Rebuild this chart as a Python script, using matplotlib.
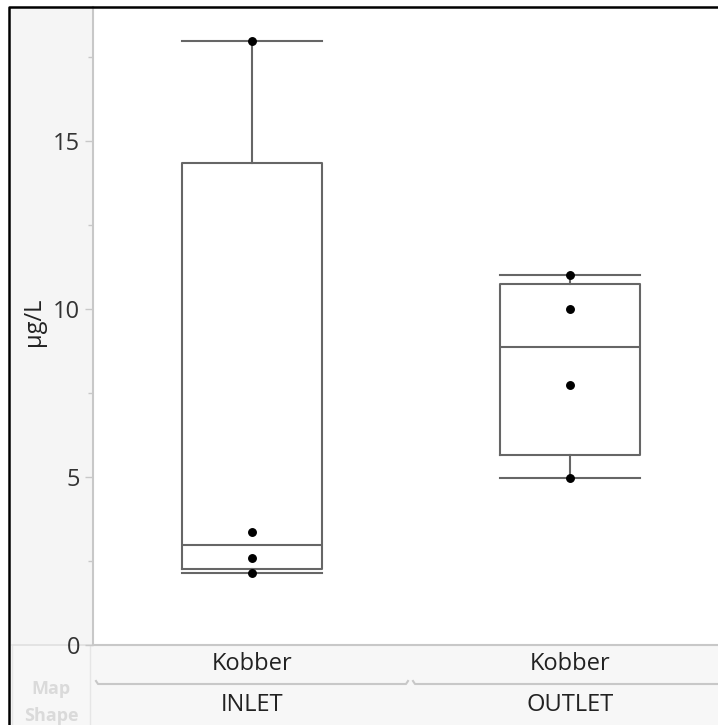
import matplotlib
matplotlib.use("Agg")
import matplotlib.pyplot as plt
import numpy as np
from matplotlib.lines import Line2D
from matplotlib.patches import Rectangle

plt.rcParams['font.family'] = ['Open Sans', 'DejaVu Sans']

# measured copper (Kobber) concentrations, µg/L
groups = ["INLET", "OUTLET"]
element = "Kobber"
inlet_vals = [2.15, 2.58, 3.37, 18.0]
outlet_vals = [4.96, 7.74, 10.02, 11.01]
y_ticks = [0, 5, 10, 15]
y_label = "µg/L"

W, H = 718, 725
fig = plt.figure(figsize=(W / 100, H / 100), dpi=100)


def fx(px):
    return px / W


def fy(py):
    return 1 - py / H


# grey side and bottom panels behind the axis labels
fig.patches.append(Rectangle((fx(9), fy(645)), fx(84), 638 / H, transform=fig.transFigure,
                             facecolor="#f5f5f5", edgecolor="none", zorder=-2))
fig.patches.append(Rectangle((fx(9), 0), fx(720), 80 / H, transform=fig.transFigure,
                             facecolor="#f7f7f7", edgecolor="none", zorder=-2))

ax = fig.add_axes([fx(93), fy(645), (729 - 93) / W, (645 - 7) / H])
ax.set_facecolor("white")


def box_stats(vals, label):
    v = np.sort(np.asarray(vals, dtype=float))
    q1, med, q3 = np.quantile(v, [0.25, 0.5, 0.75], method="weibull")
    iqr = q3 - q1
    lo = v[v >= q1 - 1.5 * iqr].min()
    hi = v[v <= q3 + 1.5 * iqr].max()
    return dict(label=label, q1=q1, med=med, q3=q3, whislo=lo, whishi=hi, fliers=[])


stats = [box_stats(inlet_vals, groups[0]), box_stats(outlet_vals, groups[1])]
line_kw = dict(color="#666666", linewidth=1.5)
ax.bxp(stats, positions=[0, 1], widths=0.44, capwidths=0.44, showfliers=False,
       boxprops=line_kw, whiskerprops=line_kw, capprops=line_kw, medianprops=line_kw)

for pos, vals in enumerate([inlet_vals, outlet_vals]):
    ax.plot([pos] * len(vals), vals, "o", color="black", markersize=5.4, zorder=5)

ax.set_xlim(-0.5, 1.5)
ax.set_ylim(0, 19.0)
ax.set_yticks(y_ticks)
ax.set_yticks([2.5, 7.5, 12.5, 17.5], minor=True)
ax.set_xticks([])
ax.tick_params(axis="y", which="major", length=5.8, width=1, color="#c8c8c8",
               labelsize=17, labelcolor="#333333", pad=3.6)
ax.tick_params(axis="y", which="minor", length=3.6, width=1, color="#c8c8c8")
for side in ["top", "right"]:
    ax.spines[side].set_visible(False)
for side in ["left", "bottom"]:
    ax.spines[side].set_color("#c8c8c8")
    ax.spines[side].set_linewidth(1.5)

fig.text(fx(34), fy(322), y_label, rotation=90, ha="center", va="center",
         fontsize=17, color="#222222")

# category labels below the axis
for cx, grp in zip([252, 570], groups):
    fig.text(fx(cx), fy(664), element, ha="center", va="center", fontsize=17, color="#222222")
    fig.text(fx(cx), fy(705), grp, ha="center", va="center", fontsize=17, color="#222222")

# group bracket lines
for x0, x1 in [(96, 408), (413, 740)]:
    fig.add_artist(Line2D([fx(x0), fx(x0 + 2), fx(x1 - 2), fx(x1)],
                          [fy(681), fy(684), fy(684), fy(681)],
                          color="#c8c8c8", linewidth=1.5, transform=fig.transFigure))

# faint line under the tick area and the Map Shape cell (kept behind the tick labels)
fig.add_artist(Line2D([fx(12), fx(93)], [fy(645), fy(645)], color="#e0e0e0",
                      linewidth=1.2, transform=fig.transFigure, zorder=-1))
for xx in [12, 90]:
    fig.add_artist(Line2D([fx(xx), fx(xx)], [fy(646), 0], color="#e6e6e6",
                          linewidth=1.0, transform=fig.transFigure, zorder=-1))
fig.text(fx(51), fy(689), "Map", ha="center", va="center", fontsize=13,
         fontweight="bold", color="#dadada")
fig.text(fx(51), fy(716), "Shape", ha="center", va="center", fontsize=13,
         fontweight="bold", color="#dadada")

# outer frame
fig.add_artist(Line2D([fx(8.5), fx(8.5), 1], [0, fy(6.5), fy(6.5)], color="black",
                      linewidth=1.8, transform=fig.transFigure))

fig.savefig("out.png", dpi=100)
